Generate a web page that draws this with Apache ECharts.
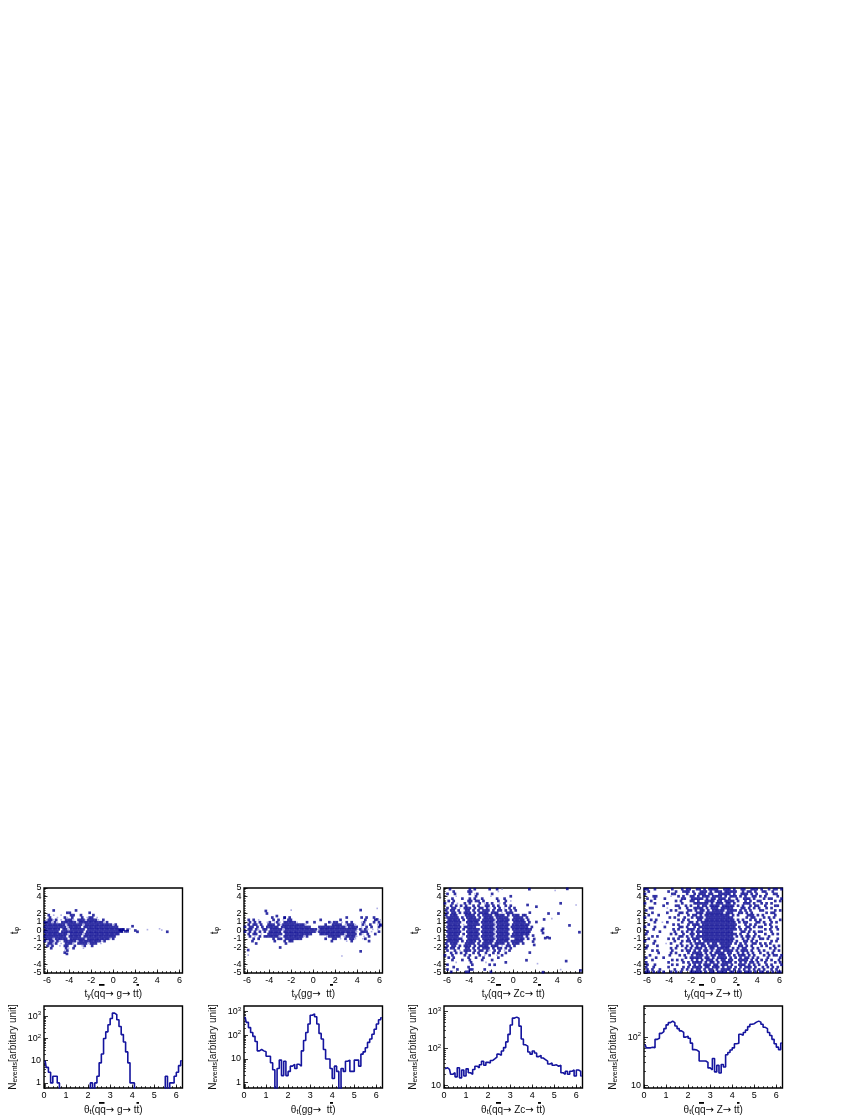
<!DOCTYPE html>
<html><head><meta charset="utf-8">
<style>html,body{margin:0;padding:0;background:#fff}#c{width:863px;height:1117px}</style>
<script src="https://cdn.jsdelivr.net/npm/echarts@6/dist/echarts.min.js"></script>
</head><body><div id="c"></div>
<script>
// ---------- tick labels / ranges ----------
const topXTicks=[-6,-4,-2,0,2,4,6];
const topYTicks=[-5,-4,-3,-2,-1,0,1,2,3,4,5];
const topYInner=[-4,-3,-2,-1,0,1,2,3,4];
const topYEnds=[-5,5];
const botXTicks=[0,1,2,3,4,5,6];
const TWO_PI=6.28;
const botYRanges=[[0.59,2917],[0.6,1710],[8.5,1400],[8.8,443]];
const botYTicks=[[1,10,100,1000],[1,10,100,1000],[10,100,1000],[10,100]];
const xTitles=["(qq{arr|→} g{arr|→} tt)","(gg{arr|→}  tt)","(qq{arr|→} Zc{arr|→} tt)","(qq{arr|→} Z{arr|→} tt)"];
// ---------- histogram values, bins 0.1 wide ----------
const hist1=[10,5,3,1,2,2,1,0,0,0,0,0,0,0,0,0,0,0,0,0,0,1,0,1,2,8,20,100,200,420,800,1400,1200,700,350,150,70,25,8,1,1,0,0,0,0,0,0,0,0,0,0,0,0,0,0,2,0,1,1,2,3,6,10];
const hist2=[600,350,210,130,90,55,22,25,22,20,13,13,7,3.5,0,4,9,2,8,2,3,5,6,4,6,5,22,60,130,300,700,800,600,300,120,70,25,10,10,4,1.5,5,3,0,4,3,8,9,3,3,9,9,5,16,20,30,50,70,110,180,300,450,550];
const hist3=[28,30,27,20,22,17,30,16,26,18,28,22,20,27,33,30,36,45,35,42,40,47,52,58,70,65,85,105,150,240,430,660,700,650,400,180,125,115,80,70,85,75,60,65,55,50,45,38,40,35,36,33,35,22,20,24,20,24,26,18,26,24,18];
const hist4=[70,60,60,62,60,90,95,120,130,150,180,200,215,200,170,150,135,125,100,105,95,75,55,54,50,32,32,32,30,23,21,36,19,26,18,27,24,43,48,54,60,73,75,115,110,125,140,165,185,190,205,215,205,185,160,150,125,108,90,73,62,55,75];
// ---------- scatter occupancy rows ('#' point, '+' faint point), y from +5 to -5 ----------
const occ1=["","","","","","","","","",
"...#........#",
".........##.......#",
".#.+..+...##..#....#",
"..#..+..#+.#...#.+##.+",
"+##+#.+.###+.###+####+.#",
"###+#+.######+##########+#",
"########+######+###########+#",
"#########+#####.##############",
"######.##+######.###############",
"######.#########.###############",
"#########+#####+##############",
"#########.#####.#############",
"###+#####.######+#########+#",
"#+##+#+.#####+#########+#",
".##+#.+.###+.####+###.+",
".#+#..+.##..#..+#..#",
"..#.....#+.#...+",
"........+#","","","","","","","","",""];
const out1=[[0.9,0.1],[1.1,-0.1],[1.3,-0.1],[1.3,0.1],[1.75,0.5],[2,0],[2.2,-0.15],[0.6,0.05],[0.75,-0.05],[-4.4,-2.6],[-4.2,-2.75]];
const faint1=[[3.1,0.1],[4.2,0.2],[4.4,0.05],[1.5,0.2]];
const dark1=[[4.9,-0.15]];
const occ2=["","","","","","","","","","","","",
"...........#....#.#......................#.....#.#..#",
".#.#.+.....#.#.+.##...........#.......#.........#...#.+",
"..#.#.#..+#.+#+.#####+...#..#.....#+##.+.#.#...+#...#.#",
".#.##.#..###.#+#########+.......#..####.+###+..#+.#..+#",
"#.##.#.#.#####.############...###########+####.+.#.#..#.#",
".##.#+.##.#####+#############+###############+#+#+.+.+.#",
"#.#.#.#.#.#####.#############+###############+.###.+..#",
".#.##.+..######.###########...##########+####.#+.#..#",
"..#.+.#.######+.########+#.......+#####.+####+..+.#",
"...#.#.....#.##.#######.........#..##.+.#.##+..+#...",
"...#........#...#.##...............#.....+.#......#",
"....#...........#","","","","","","","","","","","",""];
const out2=[[-4.3,2.3],[-4.2,2.0],[-3.3,1.7],[-2.6,1.5],[4.3,2.4],[-3,-2],[4.3,-2.45],[-5.9,-2.3],[5.8,1.3],[6.1,0.6]];
const faint2=[[-2,2.4],[5.8,2.6],[2.6,-3],[-5.9,-2.9]];
const dark2=[];
const occ3=[
"..#.......#.#.....#..#.+..........#",
"...#.....##..........+",
".#..#.....#.+#.....#",
"....+.......#.....+.......#",
"...#...#..#.#..#.....#..#",
".#.#.....##.##.#.....#..#.+",
"#..#.+..#.#...#.+#.#..+.#",
"..#.#.#.#..#.#..##.#.#..#.#",
".#.##.+.###.#.##.#+.#.#.+.#.#",
"#.##.#..##.#.#.###.#.##.#.#.#",
".#.##.#.###.#.####.###.+.###",
"#.###...####.#.####.####.#.###.#",
".#####.#.####.#.####.#####..####.#",
".#####.#.#####.#####+#####.#####.#",
".######..#####.#####+#####..#####.#",
".#####.+.#####.#####+#####.#######",
".######.#####..#####+#####.#######.#",
".#####.#.#####.#####+#####.########",
".######..#####.#####+#####..#######",
".#####.#.#####.#####+#####.#######",
".#####.+.#####.#####+#####.#####.#",
".######..#####.#####+#####..####.#",
".#####.#.####.#.####.#####.#####",
"#.###...####.#.####.####.#.###.#",
".#.##.#.###.#.####.###.+.##.#",
"#.##.#..##.#.#.###.#.##.#.#",
".#..#.+.###.#.##.#+.#.#.+.#",
"..#.#.#.#..#.#..#..#.#..#",
"#..#....#.#...#.+.#..+.#",
".#.#.....#..#..#.....#",
"...#...#..#....#...#",
"....+.....#.....+.......#",
".#.........#......#.#",
"...#.....#.......",
".#...#....##....#.......",
"..#.....##........#...."];
const out3=[[2.1,1],[2.6,0],[2.7,-0.3],[3.1,-0.8],[2.9,-0.9],[3.3,-0.9],[2.7,0.2],[1.8,-0.6],[1.9,-1],[1.8,-1.3],[3.2,2],[4.1,2],[4.3,3.2],[4.9,4.9],[5.1,0.6],[6,-0.2],[4.8,-3.6],[2.7,-4.9],[6.1,-4.7],[2.8,1.3],[1.9,-1.7],[1.5,2.1],[2.1,2.8],[1.5,-2.6],[1.2,-3.5],[1.1,1.8],[1.3,3]];
const faint3=[[3.8,4.7],[4.3,-4.6],[3.5,1.4],[2.2,-3.9],[5.7,3]];
const dark3=[];
const occ4=[
"##..#......#...#.##..##.#.####..###.#..##..###.#..#.##.#",
".#.......#..#..###.#..###.#.###.#####..#.##.#..##..#...#",
"#..........##....#..#.###.##..#####.#..###.#.#...#..##..",
"...##.....+..#.#..##.#.###.####.#.###.#.#..##.#.#....#.#",
".#..#...#......##..#####.#.##.###.#..#..###.#...#.##...#",
"..#.........#.#...##.#..####.##.####.#..#.#..##.....#.#.",
"#...#....#.....#....######.#.###.##.#...###.#..#.#.#....",
".......#....##..#.#..#.##.####.#####.#.#..#.##..#...##.#",
"..##.....+....#..#..####.#.###.#####...##.#.#.#..#.#....",
"#.........#.#....##.#.##.#.#####.####.#.#.#...##....#.#.",
"...#.....#....##.#...###.#######.###..##.#.#.....#.##...",
".#...#.......#...#.##.#.##########.#.#...###.#.#....#..#",
"#.........#.#...#..#.###.###########.....#.##...#.#.#...",
"..#.#........#.#.#...##.############.#.#..#.#.#...#...#.",
"....#..+.#.....#..##.#.##############.#.##...##.#..#.#..",
".#.........#.#...#.###.##############...#.#.#...#.#....#",
"#...#...#.....##.#..#.###############.#..##.#.##...#.#..",
"...#.......#.#...###.#.##############.#.#.#.....#.#..#.#",
".#....#.....#..#.#.#.###############...##.#.#.##...#....",
"#.........#.#..#..##.#.##############.#..#..#...#..#.#.#",
"...#.#........##.#.#.###############.#.#.##.#.#...#.....",
".#.......#.#.#...#.###.#############...#.#.#..##.#...#.#",
"#...#.......#..#.##.#.#.############.#..##.#.#.....#.#..",
"...#....+.#...#...#.####.#.##.#####.#.#.#..##.#.#.#....#",
".#...#.......#.#.#.#.#.##.####.####...##.#.#...#.#..#.#.",
"#.........#.#...#.#.###.#.##.#####.#.#.##..#.#....#.#...",
"...#.#.....#...#.##.#.#.##.#.##.####.#.###.#..#.#...#.#.",
".....#....#.#....#.####.#.#.####.##..#.#.#.#..#..#.#....",
"..#.......#...#.#..#.###.#.##.###.#.#.###.#.#...#.#.##.#",
"#...#..#........#.#####.##.#.####.#.#.#.##.#.#...#....#.",
"...#.......#.#.#...#.#.#.###.#.##.##..####.#.#.#.#.#..#.",
"#........#.....#.#.####.#.##.#.####.#.#.#.##.#..#...#.#.",
".#..#......#.#....#.#.#.###.##.###.#..###.#.#.#..#.#...#",
"#..#.....#.....#.#.####.##.###.#.##.#.#.###.#..#.#.#.#.#",
".#.#..#.....#..#.#.#.##.#.##.#.####.#.#.#.#.#.#.#..#.#..",
"##.#.#.#..#.#.#...#####.#.##.####.##.##.###.#.##.#.#.###"];
const out4=[];const faint4=[];const dark4=[];
const occs=[occ1,occ2,occ3,occ4];
const outs=[out1,out2,out3,out4];
const fnts=[faint1,faint2,faint3,faint4];
const darks=[dark1,dark2,dark3,dark4];
const hists=[hist1,hist2,hist3,hist4];
// ---------- layout ----------
const lefts=[44,244,444,644];
const W=138.5;
const navy='#00008f',line='#14149e',faintCol='#9a9ade';
function occPoints(rows,ch){
  const r=[];
  rows.forEach((s,i)=>{for(let c=0;c<s.length;c++){ if(s[c]===ch) r.push([-6.3+0.225*(c+0.5+(i%2?0.5:0)),5-(i+0.5)*10/36]); }});
  return r;
}
function range(a,b,st){const r=[];for(let i=Math.ceil(a/st-1e-9);i*st<=b+1e-9;i++)r.push(+(i*st).toFixed(3));return r;}
function logMinor(lo,hi){const r=[];for(let d=-1;d<4;d++)for(let m=2;m<=9;m++){const v=m*Math.pow(10,d);if(v>=lo&&v<=hi)r.push(v);}return r;}
const grids=[],xAxes=[],yAxes=[],series=[],graphic=[];
const baseRich={sub:{fontSize:7,verticalAlign:'bottom',padding:[5,0,0,0],fontFamily:'Liberation Sans',color:'#000'},
  sup:{fontSize:6,verticalAlign:'top',padding:[0,0,5,0],fontFamily:'Liberation Sans',color:'#000'},
  base:{fontSize:9,fontFamily:'Liberation Sans',color:'#000'},
  arr:{fontSize:10,fontFamily:'DejaVu Sans',color:'#000'}};
const nameStyle={fontSize:10,fontFamily:'Liberation Sans',color:'#111',rich:baseRich};
const lblStyle={fontSize:9,fontFamily:'Liberation Sans',color:'#000'};
const noLine={show:false,onZero:false};
function addGrid(left,top,height){
  grids.push({left:left,top:top,width:W,height:height,show:true,borderColor:'#000',borderWidth:1.4,containLabel:false});
  return grids.length-1;
}
for(let p=0;p<4;p++){
  // top panel
  let g=addGrid(lefts[p],888,85);
  let xi=xAxes.length,yi=yAxes.length;
  xAxes.push({gridIndex:g,type:'value',min:-6.28,max:6.28,position:'bottom',splitLine:{show:false},axisLine:noLine,
    axisTick:{show:true,inside:true,length:3.5,customValues:topXTicks,lineStyle:{color:'#000',width:0.8}},
    axisLabel:{show:true,margin:3.5,customValues:topXTicks,...lblStyle},
    name:'t{sub|y}'+xTitles[p],nameLocation:'middle',nameGap:15,nameTextStyle:nameStyle});
  xAxes.push({gridIndex:g,type:'value',min:-6.28,max:6.28,position:'bottom',splitLine:{show:false},axisLine:noLine,
    axisLabel:{show:false},axisTick:{show:true,inside:true,length:1.8,customValues:range(-6.28,6.28,0.4),lineStyle:{color:'#000',width:0.8}}});
  yAxes.push({gridIndex:g,type:'value',min:-5,max:5,interval:1,position:'left',splitLine:{show:false},axisLine:noLine,
    axisTick:{show:true,inside:true,length:3.5,customValues:topYTicks,lineStyle:{color:'#000',width:0.8}},
    axisLabel:{margin:2.5,hideOverlap:false,showMinLabel:true,showMaxLabel:true,customValues:topYInner,lineHeight:7,...lblStyle},
    name:'t{sub|φ}',nameLocation:'middle',nameGap:23,nameRotate:90,nameTextStyle:nameStyle});
  yAxes.push({gridIndex:g,type:'value',min:-5,max:5,position:'left',splitLine:{show:false},axisLine:noLine,
    axisLabel:{show:true,margin:2.5,hideOverlap:false,customValues:topYEnds,showMinLabel:true,showMaxLabel:true,...lblStyle},
    axisTick:{show:true,inside:true,length:1.8,customValues:range(-5,5,0.2),lineStyle:{color:'#000',width:0.6}}});
  series.push({type:'scatter',xAxisIndex:xi,yAxisIndex:yi,symbol:'rect',symbolSize:2.7,silent:true,large:false,animation:false,
    itemStyle:{color:navy},data:occPoints(occs[p],'#').concat(outs[p]).concat(darks[p])});
  series.push({type:'scatter',xAxisIndex:xi,yAxisIndex:yi,symbol:'rect',symbolSize:1.6,silent:true,animation:false,
    itemStyle:{color:faintCol},data:occPoints(occs[p],'+').concat(fnts[p])});
  // bottom panel
  g=addGrid(lefts[p],1006,85);
  xi=xAxes.length;yi=yAxes.length;
  const lo=botYRanges[p][0],hi=botYRanges[p][1];
  xAxes.push({gridIndex:g,type:'value',min:0,max:TWO_PI,position:'bottom',splitLine:{show:false},axisLine:noLine,
    axisTick:{show:true,inside:true,length:3.5,customValues:botXTicks,lineStyle:{color:'#000',width:0.8}},
    axisLabel:{margin:3.5,customValues:botXTicks,...lblStyle},
    name:'θ{sub|t}'+xTitles[p],nameLocation:'middle',nameGap:16,nameTextStyle:nameStyle});
  xAxes.push({gridIndex:g,type:'value',min:0,max:TWO_PI,position:'bottom',splitLine:{show:false},axisLine:noLine,
    axisLabel:{show:false},axisTick:{show:true,inside:true,length:1.8,customValues:range(0,6.28,0.2),lineStyle:{color:'#000',width:0.8}}});
  yAxes.push({gridIndex:g,type:'log',logBase:10,min:lo,max:hi,position:'left',splitLine:{show:false},axisLine:noLine,
    axisTick:{show:true,inside:true,length:4,customValues:botYTicks[p],lineStyle:{color:'#000',width:0.8}},
    axisLabel:{margin:3,customValues:botYTicks[p],...lblStyle,rich:baseRich,
      formatter:v=>{const e=Math.round(Math.log10(v));return e===0?'{base|1}':e===1?'{base|10}':'{base|10}{sup|'+e+'}';}},
    name:'N{sub|events}[arbitary unit]',nameLocation:'middle',nameGap:25,nameRotate:90,nameTextStyle:nameStyle});
  yAxes.push({gridIndex:g,type:'log',logBase:10,min:lo,max:hi,position:'left',splitLine:{show:false},axisLine:noLine,
    axisLabel:{show:false},axisTick:{show:true,inside:true,length:2,customValues:logMinor(lo,hi),lineStyle:{color:'#000',width:0.7}}});
  series.push({type:'line',xAxisIndex:xi,yAxisIndex:yi,step:'middle',symbol:'none',silent:true,animation:false,clip:true,
    lineStyle:{color:line,width:1.6},
    data:hists[p].map((v,i)=>[0.05+i*0.1,v>0?v:0.3])});
}
// overbars in the axis titles
const bars=[[99,5.5],[136.5,2.5],[330,3],[496,5],[538,3],[699,5],[737,2.5]];
bars.forEach(b=>[0,118].forEach(dy=>graphic.push({type:'rect',silent:true,shape:{x:b[0],y:984+dy,width:b[1],height:1.8},style:{fill:'#000'}})));
const chart=echarts.init(document.getElementById('c'),null,{renderer:'canvas',width:863,height:1117});
chart.setOption({animation:false,backgroundColor:'#fff',grid:grids,xAxis:xAxes,yAxis:yAxes,series:series,graphic:graphic});
</script></body></html>
